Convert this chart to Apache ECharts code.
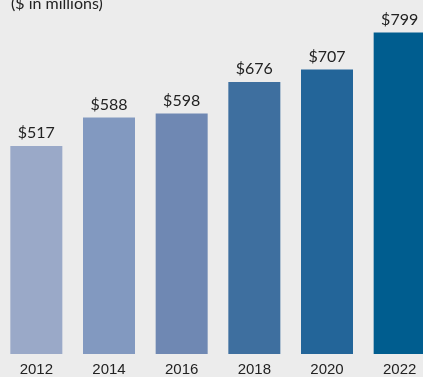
<!DOCTYPE html>
<html>
<head>
<meta charset="utf-8">
<script src="https://cdn.jsdelivr.net/npm/echarts@6/dist/echarts.min.js"></script>
<style>
html,body{margin:0;padding:0;background:#ececec;overflow:hidden;width:423px;height:377px;}
#chart{width:436px;height:377px;}
</style>
</head>
<body>
<div id="chart"></div>
<script>
const categories = ['2012', '2014', '2016', '2018', '2020', '2022'];
const values = [517, 588, 598, 676, 707, 799];
const titleText = '($ in millions)';
const barColors = ['#9aa9c8', '#8299c0', '#6f88b3', '#3e6f9f', '#236599', '#005d8f'];

const chart = echarts.init(document.getElementById('chart'), null, {renderer: 'canvas'});
chart.setOption({
  backgroundColor: '#ececec',
  animation: false,
  title: {
    text: titleText,
    left: 11,
    top: -4,
    padding: 0,
    textStyle: {fontFamily: 'Lato', fontSize: 16, fontWeight: 'normal', color: '#222'}
  },
  grid: {left: 0, top: 0, right: 0, bottom: 22, containLabel: false},
  xAxis: {
    type: 'category',
    data: categories,
    axisLine: {show: false},
    axisTick: {show: false},
    axisLabel: {fontFamily: 'Liberation Sans', fontSize: 15, color: '#222', margin: 8}
  },
  yAxis: {
    type: 'value', min: 0, max: 880, show: false, splitLine: {show: false}
  },
  series: [{
    type: 'bar',
    barWidth: 52,
    data: values.map((v, i) => ({value: v, itemStyle: {color: barColors[i]}})),
    label: {
      show: true, position: 'top', distance: 5,
      formatter: p => '$' + p.value,
      fontFamily: 'Lato', fontSize: 16, color: '#222'
    }
  }]
});
</script>
</body>
</html>
